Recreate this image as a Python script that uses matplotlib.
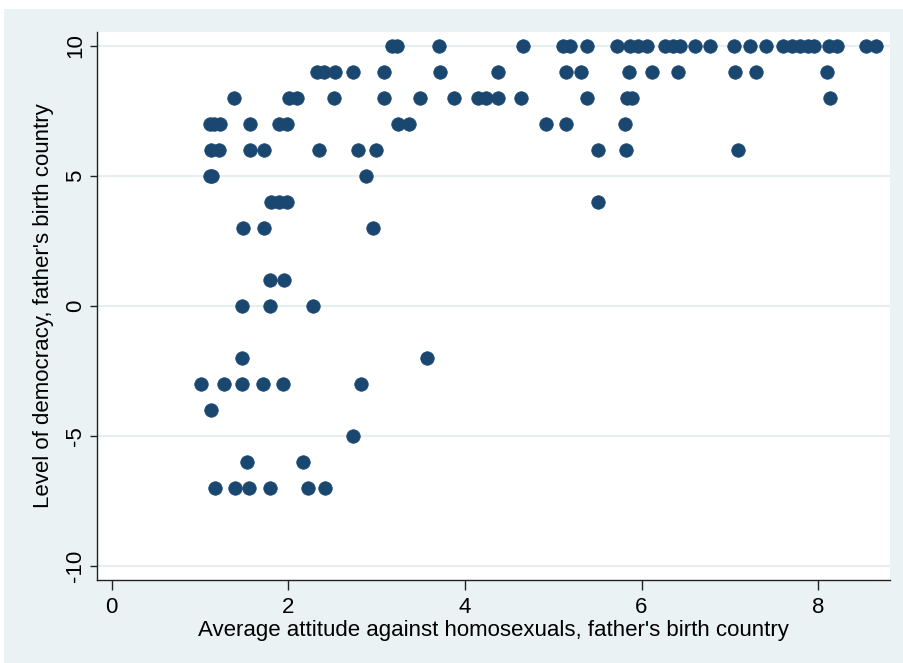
import matplotlib
matplotlib.use("Agg")
import matplotlib.pyplot as plt
from matplotlib.patches import Rectangle

plt.rcParams['font.family'] = ['Liberation Sans', 'DejaVu Sans']

# Data: (attitude, democracy) grouped by democracy level
attitude_10 = [3.17, 3.23, 3.71, 4.66, 5.11, 5.19, 5.38, 5.72, 5.87, 5.96, 6.06,
               6.27, 6.36, 6.44, 6.61, 6.78, 7.05, 7.23, 7.41, 7.60, 7.70, 7.80,
               7.89, 7.95, 8.12, 8.21, 8.54, 8.66]
attitude_9 = [2.33, 2.40, 2.53, 2.73, 3.08, 3.72, 4.38, 5.15, 5.32, 5.86, 6.12,
              6.41, 7.06, 7.30, 8.10]
attitude_8 = [1.39, 2.01, 2.10, 2.52, 3.08, 3.49, 3.88, 4.15, 4.24, 4.38, 4.64,
              5.38, 5.84, 5.89, 8.13]
attitude_7 = [1.11, 1.16, 1.23, 1.57, 1.89, 1.99, 3.24, 3.37, 4.92, 5.14, 5.81]
attitude_6 = [1.13, 1.22, 1.57, 1.72, 2.35, 2.79, 2.99, 5.51, 5.82, 7.09]
attitude_5 = [1.11, 1.14, 2.88]
attitude_4 = [1.80, 1.90, 1.99, 5.51]
attitude_3 = [1.49, 1.72, 2.96]
attitude_1 = [1.79, 1.95]
attitude_0 = [1.48, 1.79, 2.28]
attitude_m2 = [1.48, 3.57]
attitude_m3 = [1.01, 1.27, 1.48, 1.71, 1.94, 2.82]
attitude_m4 = [1.12]
attitude_m5 = [2.73]
attitude_m6 = [1.53, 2.17]
attitude_m7 = [1.17, 1.40, 1.55, 1.79, 2.22, 2.42]

groups = [(10, attitude_10), (9, attitude_9), (8, attitude_8), (7, attitude_7),
          (6, attitude_6), (5, attitude_5), (4, attitude_4), (3, attitude_3),
          (1, attitude_1), (0, attitude_0), (-2, attitude_m2), (-3, attitude_m3),
          (-4, attitude_m4), (-5, attitude_m5), (-6, attitude_m6), (-7, attitude_m7)]

x_vals = []
y_vals = []
for level, xs in groups:
    x_vals.extend(xs)
    y_vals.extend([level] * len(xs))

x_ticks = [0, 2, 4, 6, 8]
y_ticks = [-10, -5, 0, 5, 10]
x_label = "Average attitude against homosexuals, father's birth country"
y_label = "Level of democracy, father's birth country"

W, H = 904, 663
fig = plt.figure(figsize=(W / 100, H / 100), dpi=100, facecolor='white')
bg = '#EAF2F3'
fig.patches.append(Rectangle((4 / W, 0), (W - 4) / W, (H - 9) / H,
                             transform=fig.transFigure, facecolor=bg,
                             edgecolor='none', zorder=-10))

ax = fig.add_axes([97.3 / W, 1 - 580 / H, (890 - 97.3) / W, (580 - 31.7) / H])
ax.set_facecolor('white')

ax.scatter(x_vals, y_vals, s=95, color='#1A476F', edgecolors='#1A476F',
           linewidths=0.5, zorder=3)

ax.set_xlim(-0.163, 8.814)
ax.set_ylim(-10.54, 10.55)
ax.set_xticks(x_ticks)
ax.set_yticks(y_ticks)
ax.set_xticklabels([str(t) for t in x_ticks])
ax.set_yticklabels([str(t) for t in y_ticks], rotation=90, va='center')

for t in y_ticks:
    ax.axhline(t, color='#E6EEF0', lw=1.6, zorder=1)

for s in ['top', 'right']:
    ax.spines[s].set_visible(False)
for s in ['left', 'bottom']:
    ax.spines[s].set_color('#222222')
    ax.spines[s].set_linewidth(1.0)

ax.tick_params(axis='x', length=7, width=1.0, color='#222222', labelsize=16, pad=5)
ax.tick_params(axis='y', length=5, width=1.0, color='#222222', labelsize=16, pad=3)

ax.set_xlabel(x_label, fontsize=16, labelpad=2)
ax.set_ylabel(y_label, fontsize=16, labelpad=8)

fig.savefig('out.png', dpi=100, facecolor=fig.get_facecolor())
